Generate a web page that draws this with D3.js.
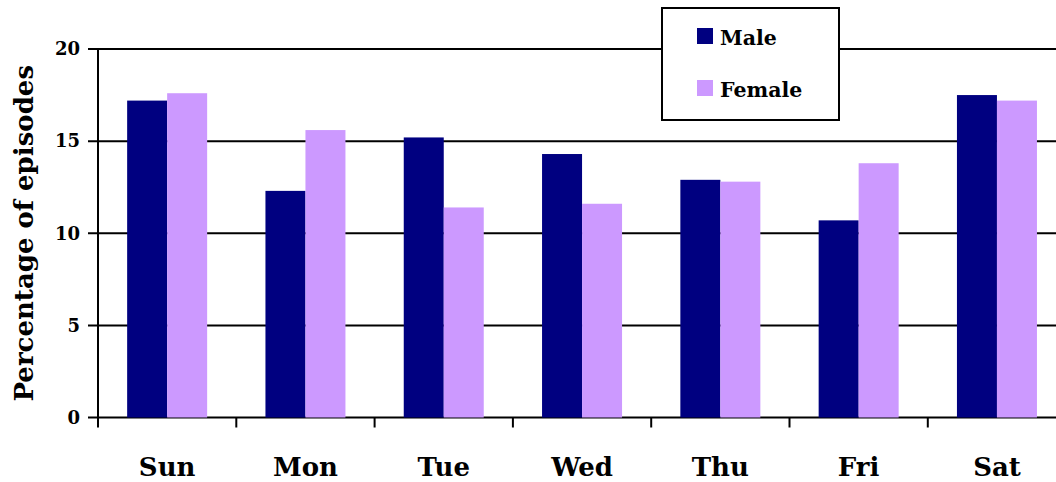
<!DOCTYPE html>
<html>
<head>
<meta charset="utf-8">
<script src="https://cdn.jsdelivr.net/npm/d3@7"></script>
<style>
  body { margin: 0; background: #fff; }
  text { font-family: "DejaVu Serif", "Liberation Serif", serif; font-weight: bold; fill: #000; }
</style>
</head>
<body>
<div id="vis"></div>
<script>
const WIDTH = 1056;
const HEIGHT = 482;
const MARGINS = {left: 98, top: 49, bottom: 64.5};

const days = ["Sun", "Mon", "Tue", "Wed", "Thu", "Fri", "Sat"];
const series = ["Male", "Female"];
const male = [17.2, 12.3, 15.2, 14.3, 12.9, 10.7, 17.5];
const female = [17.6, 15.6, 11.4, 11.6, 12.8, 13.8, 17.2];
const colors = ["#000080", "#cc99ff"];
const yTicks = [0, 5, 10, 15, 20];

const FONT = "'DejaVu Serif', serif";

const FRAME = d3.select("#vis")
  .append("svg")
    .attr("width", WIDTH)
    .attr("height", HEIGHT);

// band of each day is ~138px, last one runs off the right edge
const X_SCALE = d3.scaleBand()
  .domain(days)
  .range([MARGINS.left, MARGINS.left + 7 * 138.3]);

const Y_SCALE = d3.scaleLinear()
  .domain([0, 20])
  .range([HEIGHT - MARGINS.bottom, MARGINS.top]);

const SUB = d3.scaleBand()
  .domain(series)
  .range([0, 80]);

// gridlines
FRAME.append("g")
  .selectAll("line")
  .data(yTicks)
  .enter()
  .append("line")
    .attr("x1", MARGINS.left - 10)
    .attr("x2", WIDTH)
    .attr("y1", d => Y_SCALE(d))
    .attr("y2", d => Y_SCALE(d))
    .attr("stroke", "#000")
    .attr("stroke-width", 2);

// bars
const rows = days.map((d, i) => ({day: d, vals: [male[i], female[i]]}));
FRAME.append("g")
  .selectAll("g")
  .data(rows)
  .enter()
  .append("g")
    .attr("transform", d => "translate(" + (X_SCALE(d.day) + X_SCALE.bandwidth() / 2 - 40) + ",0)")
  .selectAll("rect")
  .data(d => d.vals.map((v, j) => ({key: series[j], v: v, c: colors[j]})))
  .enter()
  .append("rect")
    .attr("x", d => SUB(d.key))
    .attr("width", SUB.bandwidth())
    .attr("y", d => Y_SCALE(d.v))
    .attr("height", d => Y_SCALE(0) - Y_SCALE(d.v))
    .attr("fill", d => d.c);

// y axis
const yAxis = FRAME.append("g")
  .attr("transform", "translate(" + MARGINS.left + ",0)")
  .call(d3.axisLeft(Y_SCALE).tickValues(yTicks).tickSize(0).tickPadding(18));
yAxis.select(".domain").remove();
yAxis.selectAll("text").attr("font-size", "18px").style("font-family", FONT).style("font-weight", "bold");

FRAME.append("line")
  .attr("x1", MARGINS.left).attr("x2", MARGINS.left)
  .attr("y1", Y_SCALE(20) - 1).attr("y2", Y_SCALE(0) + 8)
  .attr("stroke", "#000").attr("stroke-width", 2);

// x ticks at band edges
const edges = days.map(d => X_SCALE(d));
FRAME.append("g")
  .selectAll("line")
  .data(edges)
  .enter()
  .append("line")
    .attr("x1", d => d).attr("x2", d => d)
    .attr("y1", Y_SCALE(0)).attr("y2", Y_SCALE(0) + 10)
    .attr("stroke", "#000").attr("stroke-width", 2);

const xAxis = FRAME.append("g")
  .attr("transform", "translate(0," + Y_SCALE(0) + ")")
  .call(d3.axisBottom(X_SCALE).tickSize(0).tickPadding(40));
xAxis.select(".domain").remove();
xAxis.selectAll("text").attr("font-size", "26px").style("font-family", FONT).style("font-weight", "bold");

// y title
FRAME.append("text")
  .attr("transform", "translate(33," + ((Y_SCALE(0) + Y_SCALE(20)) / 2) + ") rotate(-90)")
  .attr("text-anchor", "middle")
  .attr("font-size", "26px")
  .text("Percentage of episodes");

// legend
const legend = FRAME.append("g").attr("transform", "translate(662,8)");
legend.append("rect")
  .attr("width", 177).attr("height", 112)
  .attr("fill", "#fff").attr("stroke", "#000").attr("stroke-width", 2);
series.forEach((s, i) => {
  legend.append("rect")
    .attr("x", 35).attr("y", 20 + i * 52)
    .attr("width", 16).attr("height", 16)
    .attr("fill", colors[i]);
  legend.append("text")
    .attr("x", 58).attr("y", 37 + i * 52)
    .attr("font-size", "20.5px")
    .text(s);
});
</script>
</body>
</html>
